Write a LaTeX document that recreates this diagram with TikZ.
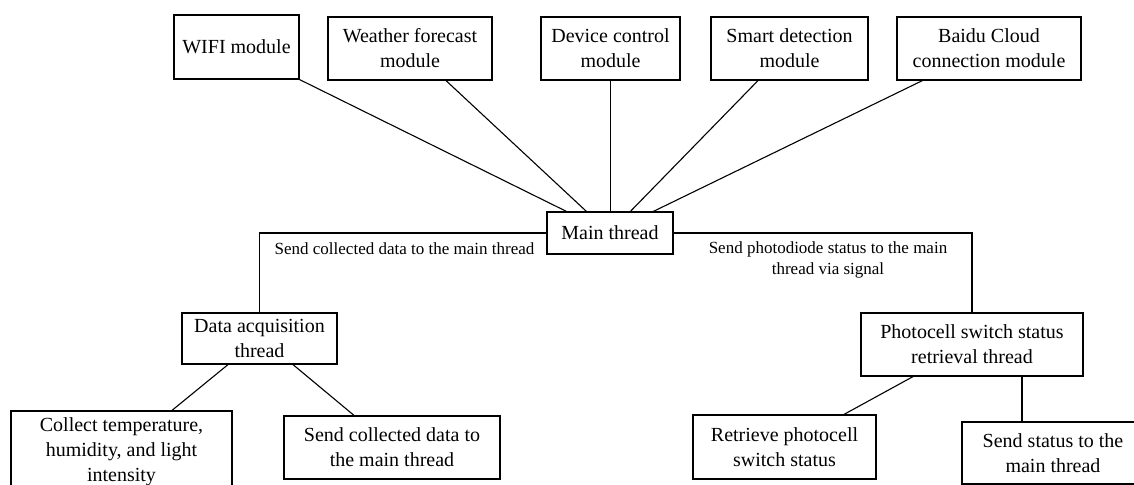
\documentclass[tikz,border=0pt]{standalone}
\usepackage{fontspec}
\setmainfont{Liberation Serif}
\begin{document}
\begin{tikzpicture}[x=0.5pt,y=-0.5pt,
  box/.style={draw,line width=0.6pt,inner sep=0pt,align=center,
    font=\fontsize{10}{12.5}\selectfont},
  lbl/.style={inner sep=0pt,align=center,font=\fontsize{8.5}{10.5}\selectfont},
  link/.style={line width=0.55pt}]
\useasboundingbox (0,0) rectangle (1134,485);
\clip (0,0) rectangle (1134,485);
% top modules
\node[box,minimum width=62.5pt,minimum height=32pt] (wifi) at (236.5,47) {WIFI module};
\node[box,minimum width=82pt,minimum height=31.5pt] (weather) at (410,48.5) {Weather forecast\\module};
\node[box,minimum width=69.5pt,minimum height=31.5pt] (device) at (610.5,48.5) {Device control\\module};
\node[box,minimum width=78.5pt,minimum height=31.5pt] (smart) at (789.5,48.5) {Smart detection\\module};
\node[box,minimum width=92pt,minimum height=31.5pt] (baidu) at (989,48.5) {Baidu Cloud\\connection module};
% main
\node[box,minimum width=63pt,minimum height=21pt] (main) at (610,233) {Main thread};
% threads
\node[box,minimum width=77.5pt,minimum height=25.5pt] (acq) at (259.5,338.5) {Data acquisition\\thread};
\node[box,minimum width=111pt,minimum height=31.5pt] (photo) at (972,344.5) {Photocell switch status\\retrieval thread};
% leaves
\node[box,minimum width=110.5pt,minimum height=41pt] (collect) at (121.5,452) {Collect temperature,\\humidity, and light\\intensity};
\node[box,minimum width=108pt,minimum height=31.5pt] (sendcol) at (392,447.5) {Send collected data to\\the main thread};
\node[box,minimum width=91.5pt,minimum height=32pt] (retrieve) at (784.5,447) {Retrieve photocell\\switch status};
\node[box,minimum width=91pt,minimum height=31pt] (sendst) at (1053,453) {Send status to the\\main thread};
% labels
\node[lbl] (lleft) at (404.5,249) {Send collected data to the main thread};
\node[lbl] (lright) at (828,259.5) {Send photodiode status to the main\\thread via signal};
% connectors
\draw[link] (wifi.south east) -- ([xshift=10pt]main.north west);
\draw[link] ([xshift=18pt]weather.south) -- ([xshift=20pt]main.north west);
\draw[link] (device.south) -- (device.south |- main.north);
\draw[link] ([xshift=-15.75pt]smart.south) -- ([xshift=42pt]main.north west);
\draw[link] ([xshift=13pt]baidu.south west) -- ([xshift=53.5pt]main.north west);
\draw[link] (main.west) -| (acq.north);
\draw[link] (main.east) -| (photo.north);
\draw[link] ([xshift=-15.75pt]acq.south) -- ([xshift=25.25pt]collect.north);
\draw[link] ([xshift=16.75pt]acq.south) -- ([xshift=-19pt]sendcol.north);
\draw[link] ([xshift=-29.5pt]photo.south) -- ([xshift=29.75pt]retrieve.north);
\draw[link] ([xshift=25pt]photo.south) coordinate (ps) -- (ps |- sendst.north);
\end{tikzpicture}
\end{document}
